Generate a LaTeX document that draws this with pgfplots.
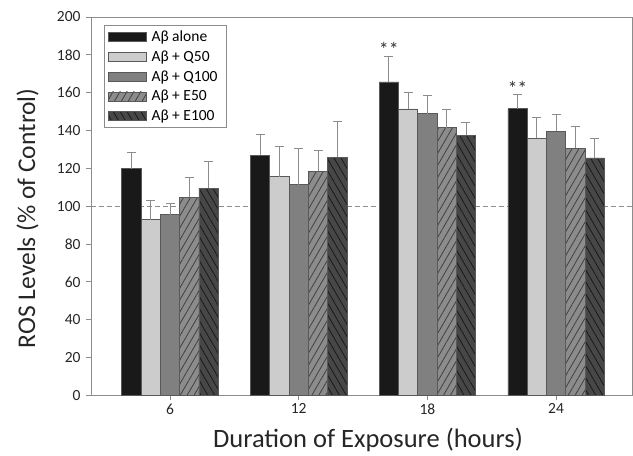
\documentclass[border=0pt]{standalone}
\usepackage{pgfplots}
\pgfplotsset{compat=1.18}
\usepackage{fontspec}
\setmainfont{Carlito}
\usetikzlibrary{patterns.meta}
\definecolor{axgray}{gray}{0.55}
\definecolor{errgray}{gray}{0.55}
\definecolor{edgegray}{gray}{0.35}
\begin{document}
\begin{tikzpicture}
\begin{axis}[
  scale only axis,
  width=541pt, height=378.4pt,
  xmin=-0.614, xmax=3.59,
  ymin=0, ymax=200,
  ytick={0,20,...,200},
  xtick={0,1,2,3},
  xticklabels={6,12,18,24},
  axis line style={axgray, line width=0.9pt},
  tick style={axgray, line width=0.9pt},
  tick align=outside,
  major tick length=5pt,
  xtick pos=bottom, ytick pos=left,
  /pgf/number format/assume math mode=true,
  tick label style={font=\fontsize{15.5}{17}\selectfont, text=black!85},
  yticklabel style={xshift=-2pt},
  xlabel={Duration of Exposure (hours)},
  ylabel={ROS Levels (\% of Control)},
  xlabel style={font=\fontsize{26.5}{28}\selectfont, text=black!85,
    at={(axis description cs:0.512,0)}, anchor=base, yshift=-52pt},
  ylabel style={font=\fontsize{25.5}{27}\selectfont, text=black!85,
    at={(axis description cs:-0.1174,0.468)}, anchor=center},
  bar width=0.15,
  error bars/y dir=plus,
  error bars/y explicit,
  error bars/error bar style={errgray, line width=0.9pt},
  error bars/error mark options={rotate=90, mark size=4.5pt, errgray, line width=0.9pt},
  legend cell align=left,
  legend style={at={(0.024,0.979)}, anchor=north west, draw=axgray, line width=0.9pt,
    font=\fontsize{15.5}{17}\selectfont, row sep=4.7pt, inner xsep=4pt, inner ysep=4pt,
    nodes={inner xsep=4.5pt, inner ysep=1.5pt}},
  legend image code/.code={\draw[#1, line width=0.6pt] (0pt,-4.5pt) rectangle (38pt,4.5pt);},
]
\addplot[dash pattern=on 5pt off 3pt, axgray, line width=0.9pt, forget plot] coordinates {(-0.614,100) (3.59,100)};

\addplot[ybar, bar shift=0, fill=black!90, draw=edgegray, line width=0.6pt]
  coordinates {(-0.3,119.8) +- (0,8.8) (0.7,127) +- (0,11) (1.7,165.7) +- (0,13.5) (2.7,151.5) +- (0,7.4)};
\addplot[ybar, bar shift=0, fill=black!20, draw=edgegray, line width=0.6pt]
  coordinates {(-0.15,92.9) +- (0,10.1) (0.85,115.6) +- (0,15.8) (1.85,151.4) +- (0,8.7) (2.85,136) +- (0,11)};
\addplot[ybar, bar shift=0, fill=black!50, draw=edgegray, line width=0.6pt]
  coordinates {(0,95.5) +- (0,6.2) (1,111.4) +- (0,19) (2,148.9) +- (0,9.7) (3,139.5) +- (0,8.9)};
\addplot[ybar, bar shift=0, fill=black!45, draw=edgegray, line width=0.6pt,
  postaction={pattern={Lines[angle=60,distance=6pt,line width=0.8pt]}, pattern color=black!75}]
  coordinates {(0.15,104.7) +- (0,10.7) (1.15,118.6) +- (0,10.9) (2.15,141.5) +- (0,9.9) (3.15,130.7) +- (0,11.3)};
\addplot[ybar, bar shift=0, fill=black!72, draw=edgegray, line width=0.6pt,
  postaction={pattern={Lines[angle=-60,distance=6pt,line width=0.8pt]}, pattern color=black!90}]
  coordinates {(0.3,109.6) +- (0,13.8) (1.3,126) +- (0,18.7) (2.3,137.6) +- (0,6.5) (3.3,125.5) +- (0,10.2)};

\legend{Aβ alone, Aβ + Q50, Aβ + Q100, Aβ + E50, Aβ + E100}

\node[font=\fontsize{20}{21}\selectfont, text=black!80] at (axis cs:1.7,183) {**};
\node[font=\fontsize{20}{21}\selectfont, text=black!80] at (axis cs:2.7,162.5) {**};
\end{axis}
\path ([xshift=-91pt,yshift=17pt]current axis.north west);
\path ([xshift=1pt,yshift=-60pt]current axis.south east);
\end{tikzpicture}
\end{document}
